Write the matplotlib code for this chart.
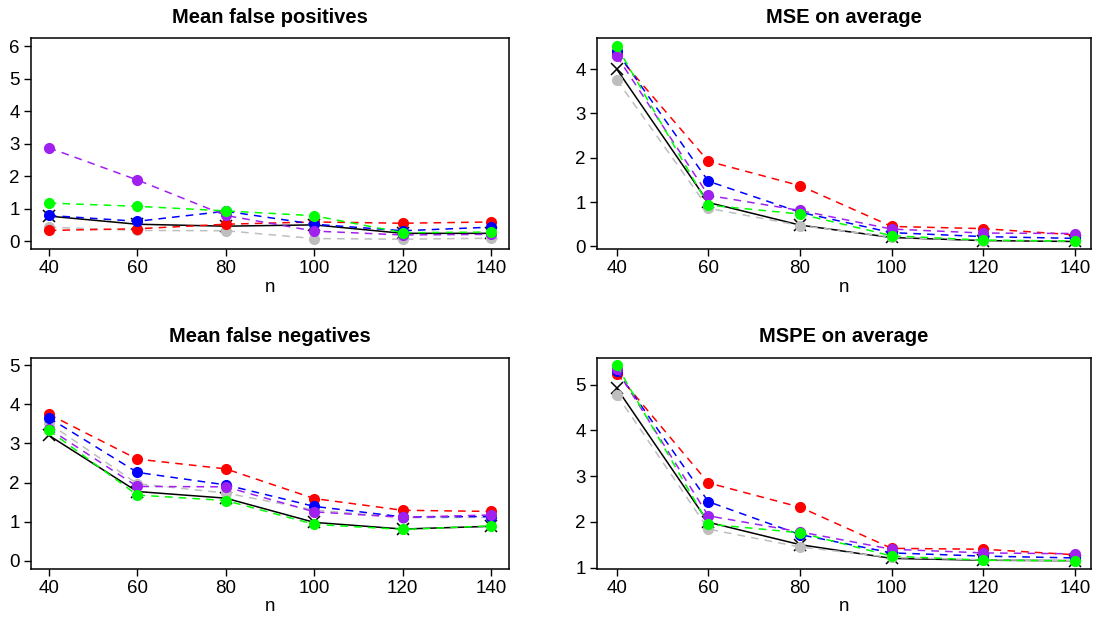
import matplotlib
matplotlib.use("Agg")
import matplotlib.pyplot as plt

plt.rcParams['font.family'] = ['Liberation Sans', 'DejaVu Sans']

n = [40, 60, 80, 100, 120, 140]

titles = ["Mean false positives", "MSE on average",
          "Mean false negatives", "MSPE on average"]

# Mean false positives
fp_red = [0.34, 0.39, 0.53, 0.60, 0.56, 0.60]
fp_blue = [0.80, 0.62, 0.93, 0.53, 0.33, 0.44]
fp_grey = [0.44, 0.34, 0.33, 0.09, 0.07, 0.10]
fp_purple = [2.88, 1.89, 0.80, 0.32, 0.20, 0.22]
fp_green = [1.18, 1.08, 0.94, 0.79, 0.27, 0.29]
fp_black = [0.78, 0.53, 0.47, 0.51, 0.25, 0.25]

# MSE on average
mse_red = [4.33, 1.92, 1.37, 0.45, 0.40, 0.26]
mse_blue = [4.40, 1.47, 0.77, 0.31, 0.22, 0.18]
mse_grey = [3.76, 0.86, 0.47, 0.21, 0.13, 0.12]
mse_purple = [4.30, 1.15, 0.81, 0.39, 0.30, 0.29]
mse_green = [4.52, 0.93, 0.73, 0.24, 0.14, 0.12]
mse_black = [4.00, 0.99, 0.48, 0.20, 0.13, 0.11]

# Mean false negatives
fn_red = [3.75, 2.60, 2.35, 1.59, 1.29, 1.26]
fn_blue = [3.66, 2.26, 1.94, 1.39, 1.12, 1.13]
fn_grey = [3.52, 1.97, 1.73, 1.30, 1.10, 1.11]
fn_purple = [3.38, 1.90, 1.89, 1.25, 1.11, 1.17]
fn_green = [3.34, 1.68, 1.54, 0.93, 0.80, 0.89]
fn_black = [3.21, 1.77, 1.60, 0.98, 0.81, 0.88]

# MSPE on average
mspe_red = [5.24, 2.85, 2.32, 1.42, 1.40, 1.28]
mspe_blue = [5.30, 2.44, 1.72, 1.32, 1.25, 1.21]
mspe_grey = [4.78, 1.84, 1.45, 1.22, 1.17, 1.15]
mspe_purple = [5.33, 2.13, 1.78, 1.40, 1.32, 1.30]
mspe_green = [5.42, 1.95, 1.76, 1.25, 1.16, 1.15]
mspe_black = [4.92, 1.99, 1.50, 1.20, 1.16, 1.15]

panels = [
    dict(red=fp_red, blue=fp_blue, grey=fp_grey, purple=fp_purple, green=fp_green, black=fp_black),
    dict(red=mse_red, blue=mse_blue, grey=mse_grey, purple=mse_purple, green=mse_green, black=mse_black),
    dict(red=fn_red, blue=fn_blue, grey=fn_grey, purple=fn_purple, green=fn_green, black=fn_black),
    dict(red=mspe_red, blue=mspe_blue, grey=mspe_grey, purple=mspe_purple, green=mspe_green, black=mspe_black),
]
yticks_list = [range(0, 7), range(0, 5), range(0, 6), range(1, 6)]
fixed_ylim = [(0, 6), None, (0, 5), None]

colors = {"red": "#FF0000", "blue": "#0000FF", "grey": "#BEBEBE",
          "purple": "#A020F0", "green": "#00FF00"}
order = ["grey", "red", "blue", "purple", "green"]

W, H = 1093, 619
fig = plt.figure(figsize=(W / 100, H / 100), dpi=100)

boxes = [  # left, top, right, bottom in pixels
    (31, 38.3, 509, 249.3),
    (597, 38.3, 1091, 249.3),
    (31, 357.5, 509, 568.5),
    (597, 357.5, 1091, 568.5),
]
xlims = [(36, 144), (35.7, 143.5), (36, 144), (35.7, 143.5)]

for i, (l, t, r, b) in enumerate(boxes):
    ax = fig.add_axes([l / W, 1 - b / H, (r - l) / W, (b - t) / H])
    d = panels[i]
    ax.plot(n, d["black"], color="black", lw=1.1, ls="-", marker="x",
            ms=8, mew=1.1, zorder=2)
    for k, c in enumerate(order):
        ax.plot(n, d[c], color=colors[c], lw=1.1, ls=(0, (5, 4)),
                marker="o", ms=7, mec=colors[c], mfc=colors[c], zorder=3 + k)
    if fixed_ylim[i] is not None:
        lo, hi = fixed_ylim[i]
    else:
        allv = [v for key in d for v in d[key]]
        lo, hi = min(allv), max(allv)
    pad = 0.04 * (hi - lo)
    ax.set_ylim(lo - pad, hi + pad)
    ax.set_xlim(*xlims[i])
    ax.set_xticks(n)
    ax.set_yticks(list(yticks_list[i]))
    ax.tick_params(direction="out", length=5, width=1, labelsize=13.5, pad=3,
                   colors="black")
    for s in ax.spines.values():
        s.set_linewidth(1.1)
    cx = (l + r) / 2
    fig.text(cx / W, 1 - (t - 21) / H, titles[i], ha="center", va="center",
             fontsize=14.5, fontweight="bold")
    fig.text(cx / W, 1 - (b + 38) / H, "n", ha="center", va="center",
             fontsize=13.5)

fig.savefig("out.png", dpi=100)
